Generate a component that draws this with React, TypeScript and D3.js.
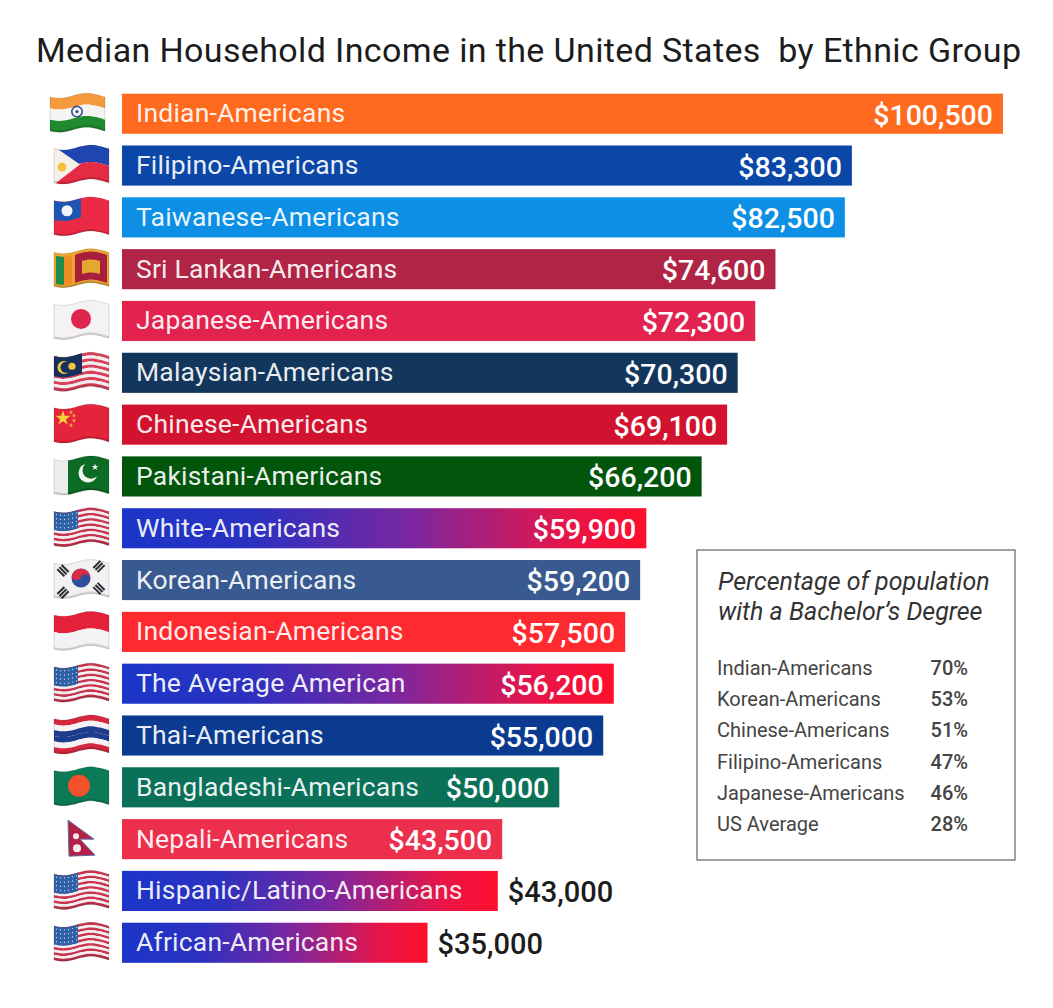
import * as d3 from "d3";

// Median household income
const GROUPS = [
  "Indian-Americans", "Filipino-Americans", "Taiwanese-Americans", "Sri Lankan-Americans",
  "Japanese-Americans", "Malaysian-Americans", "Chinese-Americans", "Pakistani-Americans",
  "White-Americans", "Korean-Americans", "Indonesian-Americans", "The Average American",
  "Thai-Americans", "Bangladeshi-Americans", "Nepali-Americans", "Hispanic/Latino-Americans",
  "African-Americans",
];
const INCOMES = [100500, 83300, 82500, 74600, 72300, 70300, 69100, 66200, 59900, 59200, 57500, 56200, 55000, 50000, 43500, 43000, 35000];
const BAR_COLORS = [
  "#FF6A1E", "#0B47A6", "#0C8FE5", "#B02446", "#E2234F", "#13365C", "#D2132F", "#02560C",
  "url(#usGrad)", "#385A90", "#FF2A30", "url(#usGrad)", "#0B3B90", "#0A7057", "#EC2F4C",
  "url(#usGrad)", "url(#usGrad)",
];
const FLAGS = [
  "india", "philippines", "taiwan", "srilanka", "japan", "malaysia", "china", "pakistan",
  "us", "korea", "indonesia", "us", "thailand", "bangladesh", "nepal", "us", "us",
];
// Values drawn outside the bar instead of inside
const OUTSIDE = ["Hispanic/Latino-Americans", "African-Americans"];

const DEGREE_GROUPS = ["Indian-Americans", "Korean-Americans", "Chinese-Americans", "Filipino-Americans", "Japanese-Americans", "US Average"];
const DEGREE_PCT = [70, 53, 51, 47, 46, 28];

const FONT = "Roboto, 'Open Sans', sans-serif";
const BAR_LEFT = 122;
const FLAG_W = 55;
const FLAG_H = 34;

const x = d3.scaleLinear().domain([0, 100500]).range([120, 1003]);
const y = d3.scaleBand<string>().domain(GROUPS).range([88.5, 968]).paddingInner(0.226).paddingOuter(0.1);
const degreeY = d3.scalePoint<string>().domain(DEGREE_GROUPS).range([675, 831]);
const money = (v: number) => "$" + d3.format(",")(v);

const wave = (px: number) => 2.6 * Math.sin((px / FLAG_W) * Math.PI * 2 + 0.5);

function band(x0: number, x1: number, y0: number, y1: number) {
  const xs = d3.range(0, 13).map((i) => x0 + ((x1 - x0) * i) / 12);
  return d3.area<number>().x((d) => d).y0((d) => y0 + wave(d)).y1((d) => y1 + wave(d)).curve(d3.curveBasis)(xs) as string;
}

const star = (size: number) => d3.symbol(d3.symbolStar, size)() as string;

function Disc({ cx, cy, r, fill }: { cx: number; cy: number; r: number; fill: string }) {
  return <circle cx={cx} cy={cy + wave(cx)} r={r} fill={fill} />;
}

function stripes(colors: string[], x0 = 0, x1 = FLAG_W, top = 0, bottom = FLAG_H) {
  const h = (bottom - top) / colors.length;
  return colors.map((c, i) => <path key={i} d={band(x0, x1, top + i * h, top + (i + 1) * h)} fill={c} />);
}

function UsFlag() {
  const cols = d3.range(0, 13).map((i) => (i % 2 ? "#F4F0F2" : "#C9354F"));
  return (
    <g>
      {stripes(cols)}
      <path d={band(0, 24, 0, 18.3)} fill="#2F5FA5" />
      {d3.range(0, 4).map((r) => d3.range(0, 6).map((c) => (
        <Disc key={`${r}-${c}`} cx={2.5 + c * 4} cy={2.5 + r * 4.2} r={0.7} fill="#C8D8EE" />
      )))}
    </g>
  );
}

function FlagBody({ kind }: { kind: string }) {
  switch (kind) {
    case "us":
      return <UsFlag />;
    case "india":
      return (
        <g>
          {stripes(["#F49A3A", "#F6F4F2", "#1F8A2E"])}
          <Disc cx={27} cy={17} r={6} fill="#2E4E93" />
          <Disc cx={27} cy={17} r={4.4} fill="#F6F4F2" />
          <Disc cx={27} cy={17} r={1.6} fill="#2E4E93" />
        </g>
      );
    case "philippines":
      return (
        <g>
          {stripes(["#1F45B0", "#E52B43"])}
          <path d="M0,-1 L26,17 L0,37 Z" fill="#F5F1E8" />
          <Disc cx={8} cy={17} r={4.5} fill="#F1C33C" />
        </g>
      );
    case "taiwan":
      return (
        <g>
          {stripes(["#EC2A46"])}
          <path d={band(0, 27, 0, 19)} fill="#1E56B4" />
          <Disc cx={13} cy={9} r={5.5} fill="#F3F5FB" />
        </g>
      );
    case "srilanka":
      return (
        <g>
          {stripes(["#E9A52E"])}
          <path d={band(2, 10, 3, 31)} fill="#1E8C4A" />
          <path d={band(10, 18, 3, 31)} fill="#F08A26" />
          <path d={band(21, 53, 3, 31)} fill="#A81F3E" />
          <path d={band(28, 46, 11, 24)} fill="#E4A82E" />
        </g>
      );
    case "japan":
      return (
        <g>
          {stripes(["#F4F2F2"])}
          <Disc cx={27} cy={17} r={10} fill="#DE2750" />
        </g>
      );
    case "malaysia":
      return (
        <g>
          {stripes(d3.range(0, 11).map((i) => (i % 2 ? "#F2EEEE" : "#D9405A")))}
          <path d={band(0, 28, 0, 20)} fill="#16305E" />
          <Disc cx={10} cy={10} r={6.5} fill="#F0C53C" />
          <Disc cx={12} cy={10} r={5.5} fill="#16305E" />
          <Disc cx={18} cy={10} r={3.6} fill="#F0C53C" />
        </g>
      );
    case "china":
      return (
        <g>
          {stripes(["#E3243B"])}
          <path d={star(70)} transform={`translate(9,${9 + wave(9)})`} fill="#F7D236" />
          {[[17, 4], [20, 8], [20, 13], [17, 17]].map(([a, b]) => (
            <path key={a * b} d={star(6)} transform={`translate(${a},${b + wave(a)})`} fill="#F3B43A" />
          ))}
        </g>
      );
    case "pakistan":
      return (
        <g>
          {stripes(["#0C6B24"], 14, FLAG_W)}
          {stripes(["#EDEDED"], 0, 14)}
          <Disc cx={34} cy={17} r={9.5} fill="#F5F7F2" />
          <Disc cx={37} cy={14.5} r={8.5} fill="#0C6B24" />
          <path d={star(14)} transform={`translate(41,${11 + wave(41)})`} fill="#F5F7F2" />
        </g>
      );
    case "korea":
      return (
        <g>
          {stripes(["#F2F0F1"])}
          <Disc cx={27} cy={17} r={9.5} fill="#2F4E9C" />
          <path d="M17.6,15.5 A9.5,9.5 0 0 1 36.4,18 A5,5 0 0 0 27,16 A5,5 0 0 1 17.6,15.5 Z" fill="#D92B45" transform={`translate(0,${wave(27)})`} />
          {[[9, 6, 45], [45, 6, -45], [9, 28, -45], [45, 28, 45]].map(([a, b, r]) => (
            <g key={`${a}-${b}`} transform={`translate(${a},${b + wave(a)}) rotate(${r})`}>
              {[-3, 0, 3].map((d) => <rect key={d} x={-5} y={d - 1} width={10} height={2} fill="#2B2B33" />)}
            </g>
          ))}
        </g>
      );
    case "indonesia":
      return <g>{stripes(["#E5213A", "#F4F2F2"])}</g>;
    case "thailand":
      return (
        <g>
          {stripes(["#D5283F", "#F4F2F4", "#1D3C8C", "#1D3C8C", "#F4F2F4", "#D5283F"])}
        </g>
      );
    case "bangladesh":
      return (
        <g>
          {stripes(["#0B7A57"])}
          <Disc cx={25} cy={17} r={11} fill="#F2512B" />
        </g>
      );
    default:
      return null;
  }
}

function Flag({ kind, cy }: { kind: string; cy: number }) {
  if (kind === "nepal") {
    return (
      <g transform={`translate(68,${cy - 18})`}>
        <path d="M0,0 L26,19 L12,19 L27,35 L1,36 Z" fill="#B41F45" stroke="#5A6FA8" strokeWidth={1} />
        <circle cx={8} cy={16} r={3} fill="#F5E9EE" />
        <circle cx={9} cy={28} r={4} fill="#F5E9EE" />
      </g>
    );
  }
  const left = kind === "india" ? 50 : 54;
  return (
    <g transform={`translate(${left},${cy - FLAG_H / 2})`}>
      <FlagBody kind={kind} />
      <path d={band(0, FLAG_W, FLAG_H - 2, FLAG_H)} fill="#000" opacity={0.14} />
      <path d={band(0, FLAG_W, 0, FLAG_H)} fill="none" stroke="#000" strokeOpacity={0.16} strokeWidth={0.8} />
    </g>
  );
}

export default function App() {
  const barH = y.bandwidth();
  return (
    <svg width={1053} height={1008} style={{ position: "absolute", left: 0, top: 0, background: "#fff", fontFamily: FONT }}>
      <defs>
        <linearGradient id="usGrad" x1="0" x2="1" y1="0" y2="0">
          <stop offset="0%" stopColor="#1B36C9" />
          <stop offset="25%" stopColor="#2B31C0" />
          <stop offset="55%" stopColor="#7A27A0" />
          <stop offset="85%" stopColor="#E81548" />
          <stop offset="100%" stopColor="#FF0F2C" />
        </linearGradient>
      </defs>

      <text x={36} y={62} fontSize={34} letterSpacing={0.37} fill="#1c1c1c" style={{ whiteSpace: "pre" }}>
        {"Median Household Income in the United States  by Ethnic Group"}
      </text>

      {GROUPS.map((name, i) => {
        const top = y(name) as number;
        const cy = top + barH / 2;
        const out = OUTSIDE.includes(name);
        return (
          <g key={name}>
            <Flag kind={FLAGS[i]} cy={cy - 1} />
            <rect x={BAR_LEFT} y={top} width={x(INCOMES[i]) - BAR_LEFT} height={barH} fill={BAR_COLORS[i]} />
            <text x={136} y={cy + 8.5} fontSize={26.5} letterSpacing={0.2} fill="#fff" fillOpacity={0.93}>{name}</text>
            <text
              x={out ? x(INCOMES[i]) + 10 : x(INCOMES[i]) - 10}
              y={cy + 11}
              fontSize={out ? 29 : 28.5}
              fontWeight={500}
              textAnchor={out ? "start" : "end"}
              fill={out ? "#1c1c1c" : "#fff"}
            >
              {money(INCOMES[i])}
            </text>
          </g>
        );
      })}

      <rect x={697} y={550} width={318} height={310} fill="#fff" stroke="#6f6f6f" strokeWidth={1.3} />
      <text x={718} y={590} fontSize={25} fontStyle="italic" fill="#333">Percentage of population</text>
      <text x={718} y={620} fontSize={25} fontStyle="italic" fill="#333">with a Bachelor’s Degree</text>
      {DEGREE_GROUPS.map((name, i) => (
        <g key={name}>
          <text x={717} y={degreeY(name)} fontSize={20} fill="#444">{name}</text>
          <text x={968} y={degreeY(name)} fontSize={20} fontWeight={500} textAnchor="end" fill="#444">{DEGREE_PCT[i]}%</text>
        </g>
      ))}
    </svg>
  );
}
